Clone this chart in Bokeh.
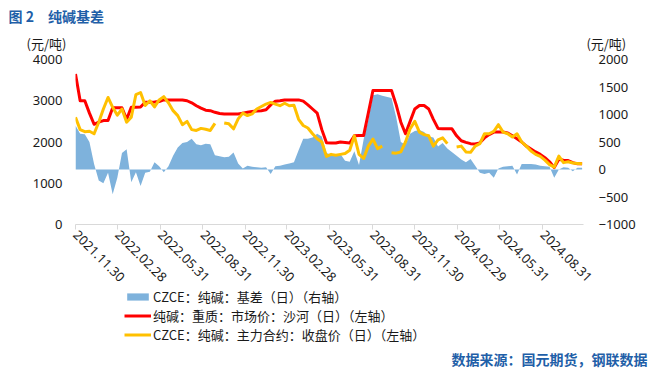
import numpy as np
import pandas as pd
from datetime import datetime
from bokeh.plotting import figure
from bokeh.layouts import column
from bokeh.models import (Range1d, LinearAxis, FixedTicker, Legend, LegendItem,
                          Title, ColumnDataSource, DatetimeTickFormatter)
from bokeh.embed import file_html
from bokeh.resources import INLINE

nan = float("nan")

# ---- data (every 10 days) ----
dates = pd.date_range("2021-11-30", "2024-11-27", freq="10D")

spot = [  # 纯碱：重质：市场价：沙河 (left axis)
    3650, 3000, 3000, 2700, 2430, 2480, 2520, 2520, 2830, 2830,
    2830, 2550, 2840, 2840, 2850, 2965, 2965, 2970, 2980, 3020,
    3020, 3020, 3020, 3020, 3000, 2950, 2880, 2820, 2770, 2760,
    2720, 2690, 2680, 2680, 2680, 2680, 2700, 2720, 2740, 2750,
    2760, 2780, 2900, 2990, 3000, 3020, 3020, 3020, 3020, 2990,
    2900, 2800, 2700, 2300, 1980, 1975, 1975, 2000, 1990, 1975,
    2150, 2160, 2160, 2700, 3250, 3250, 3250, 3250, 3250, 2900,
    2480, 2200, 2500, 2800, 2885, 2885, 2800, 2550, 2330, 2320,
    2320, 2320, 2150, 2030, 1990, 1960, 1950, 1980, 2100, 2180,
    2240, 2240, 2240, 2220, 2150, 2080, 2000, 1900, 1830, 1760,
    1700, 1620, 1520, 1380, 1580, 1560, 1550, 1500, 1470, 1470,
]

futures = [  # CZCE：纯碱：主力合约：收盘价 (left axis)
    2600, 2300, 2250, 2260, 2200, 2480, 2800, 3080, 2840, 2650,
    2800, 2480, 2600, 3150, 3200, 2885, 3000, 2850, 3020, 3100,
    2950, 2760, 2640, 2420, 2500, 2300, 2280, 2330, 2310, 2280,
    2450, nan, 2460, 2440, 2320, 2560, 2700, 2640, 2680, 2800,
    2860, 2920, 2960, 2920, 2880, 2940, 2880, 2890, 2550, 2400,
    2340, 2200, 2080, 2000, 1650, 1700, 1680, 1700, 1720, 1800,
    2150, 1700, 1600, 1900, 2070, 1840, 1900, nan, 1740, 1730,
    1760, 2000, 2320, 2500, 2240, 2180, 2150, 1900, 2050, 2100,
    1960, nan, 1880, 1900, 1760, 1750, 1900, 1960, 2200, 2200,
    2260, 2420, 2240, 2200, 2120, 2200, 2000, 1900, 1780, 1700,
    1650, 1560, 1450, 1390, 1660, 1500, 1520, 1490, 1480, 1470,
]

basis = [  # CZCE：纯碱：基差 (right axis)
    800, 650, 640, 500, 100, -200, -250, -60, -450, -150,
    300, 370, -230, -50, -300, -60, -40, 130, 60, -50,
    60, 250, 400, 480, 500, 560, 460, 440, 470, 460,
    260, nan, 225, 230, 310, 110, 20, 70, 50, 40,
    30, 40, -80, 60, 70, 90, 110, 130, 350, 560,
    560, 580, 650, 600, 300, 270, 280, 280, 160, 140,
    330, 80, 550, 900, 1350, 1370, 1340, nan, 1300, 950,
    500, 450, 650, 700, 720, 680, 600, 580, 420, 480,
    380, nan, 250, 180, 130, 190, 70, -60, -80, -60,
    -150, 20, 50, 60, 70, -90, 100, 100, 100, 90,
    70, 60, 50, -150, 0, 40, 30, -30, 30, 30,
]

tick_labels = ["2021.11.30", "2022.02.28", "2022.05.31", "2022.08.31",
               "2022.11.30", "2023.02.28", "2023.05.31", "2023.08.31",
               "2023.11.30", "2024.02.29", "2024.05.31", "2024.08.31"]
left_ticks = [0, 1000, 2000, 3000, 4000]
right_ticks = [-1000, -500, 0, 500, 1000, 1500, 2000]

series_names = ["CZCE：纯碱：基差（日）（右轴）",
                "纯碱：重质：市场价：沙河（日）（左轴）",
                "CZCE：纯碱：主力合约：收盘价（日）（左轴）"]
chart_title = "图 2\u3000纯碱基差"
unit_text = "(元/吨)"
source_text = "数据来源：国元期货，钢联数据"

# ---- styling ----
NUM_FONT = "Noto Sans"
CJK_FONT = "Noto Sans CJK SC"
LBL = "#1a1a1a"
TITLE_C = "#1F5FA8"
BLUE = "#7EB2DC"
RED = "#FF0000"
GOLD = "#FFC000"

src = ColumnDataSource(dict(date=dates, spot=np.array(spot, dtype=float),
                            futures=np.array(futures, dtype=float),
                            basis=np.array(basis, dtype=float)))

epoch = datetime(1970, 1, 1)
tick_ms = [(datetime.strptime(s, "%Y.%m.%d") - epoch).total_seconds() * 1000
           for s in tick_labels]

# ---- main chart ----
p = figure(width=655, height=287, frame_width=508, frame_height=165,
           x_axis_type="datetime",
           x_range=Range1d(start=dates[0].to_pydatetime(), end=datetime(2024, 11, 27)),
           y_range=Range1d(0, 4000),
           output_backend="svg", toolbar_location=None,
           min_border_left=75, min_border_right=72,
           min_border_top=59, min_border_bottom=0)
p.extra_y_ranges = {"basis": Range1d(-1000, 2000)}
p.outline_line_color = None
p.xgrid.visible = False
p.ygrid.visible = False

xa = p.xaxis[0]
xa.ticker = FixedTicker(ticks=tick_ms)
fmt = "%Y.%m.%d"
xa.formatter = DatetimeTickFormatter(days=fmt, months=fmt, years=fmt, hours=fmt,
                                     minutes=fmt, seconds=fmt, milliseconds=fmt,
                                     microseconds=fmt, minsec=fmt, hourmin=fmt)
xa.major_label_orientation = -np.pi / 4
xa.axis_line_color = "#D9D9D9"
xa.major_tick_line_color = "#D9D9D9"
xa.major_tick_in = 0
xa.major_tick_out = 5
xa.minor_tick_line_color = None
xa.major_label_text_font = NUM_FONT
xa.major_label_text_font_size = "13px"
xa.major_label_text_color = LBL
xa.major_label_standoff = 3

ya = p.yaxis[0]
ya.ticker = FixedTicker(ticks=left_ticks)
ya.axis_line_color = None
ya.major_tick_line_color = None
ya.minor_tick_line_color = None
ya.major_tick_in = 0
ya.major_tick_out = 0
ya.major_label_standoff = 13
ya.major_label_text_font = NUM_FONT
ya.major_label_text_font_size = "13px"
ya.major_label_text_color = LBL

ra_axis = LinearAxis(y_range_name="basis", ticker=FixedTicker(ticks=right_ticks))
ra_axis.axis_line_color = None
ra_axis.major_tick_line_color = None
ra_axis.minor_tick_line_color = None
ra_axis.major_tick_in = 0
ra_axis.major_tick_out = 0
ra_axis.major_label_standoff = 15
ra_axis.major_label_text_font = NUM_FONT
ra_axis.major_label_text_font_size = "13px"
ra_axis.major_label_text_color = LBL
p.add_layout(ra_axis, "right")

p.varea(x="date", y1=0, y2="basis", source=src, fill_color=BLUE, y_range_name="basis")
p.line(x="date", y="spot", source=src, line_color=RED, line_width=3, line_join="round")
p.line(x="date", y="futures", source=src, line_color=GOLD, line_width=3, line_join="round")

p.add_layout(Title(text=unit_text + "\u3000" * 40 + unit_text, align="left", offset=-49,
                   text_font=CJK_FONT, text_font_size="13px", text_color=LBL,
                   text_font_style="normal", standoff=13), "above")
p.add_layout(Title(text=chart_title, align="left", offset=-67,
                   text_font=CJK_FONT, text_font_size="14px", text_color=TITLE_C,
                   text_font_style="bold", standoff=0), "above")

# ---- footer: legend + source (series renderers out of view, used for legend keys) ----
foot = figure(width=655, height=82, x_axis_type=None, y_axis_type=None,
              x_range=Range1d(0, 1), y_range=Range1d(0, 1),
              output_backend="svg", toolbar_location=None,
              min_border_left=75, min_border_right=72,
              min_border_top=0, min_border_bottom=0)
foot.outline_line_color = None
k_basis = foot.varea(x="date", y1=0, y2="basis", source=src, fill_color=BLUE)
k_spot = foot.line(x="date", y="spot", source=src, line_color=RED, line_width=3)
k_fut = foot.line(x="date", y="futures", source=src, line_color=GOLD, line_width=3)

legend = Legend(items=[LegendItem(label=series_names[0], renderers=[k_basis]),
                       LegendItem(label=series_names[1], renderers=[k_spot]),
                       LegendItem(label=series_names[2], renderers=[k_fut])],
                location=(49, 0), orientation="vertical",
                label_text_font=CJK_FONT, label_text_font_size="13px",
                label_text_color=LBL,
                glyph_width=27, glyph_height=9, label_height=16, label_standoff=2,
                spacing=0, padding=0, margin=0,
                border_line_color=None, background_fill_alpha=0)
foot.add_layout(legend)
foot.add_layout(Title(text=source_text, align="right", offset=-64,
                      text_font=CJK_FONT, text_font_size="14px", text_color=TITLE_C,
                      text_font_style="bold", standoff=4), "below")

page = column(p, foot, spacing=0)
open("out.html", "w").write(file_html(page, INLINE))
